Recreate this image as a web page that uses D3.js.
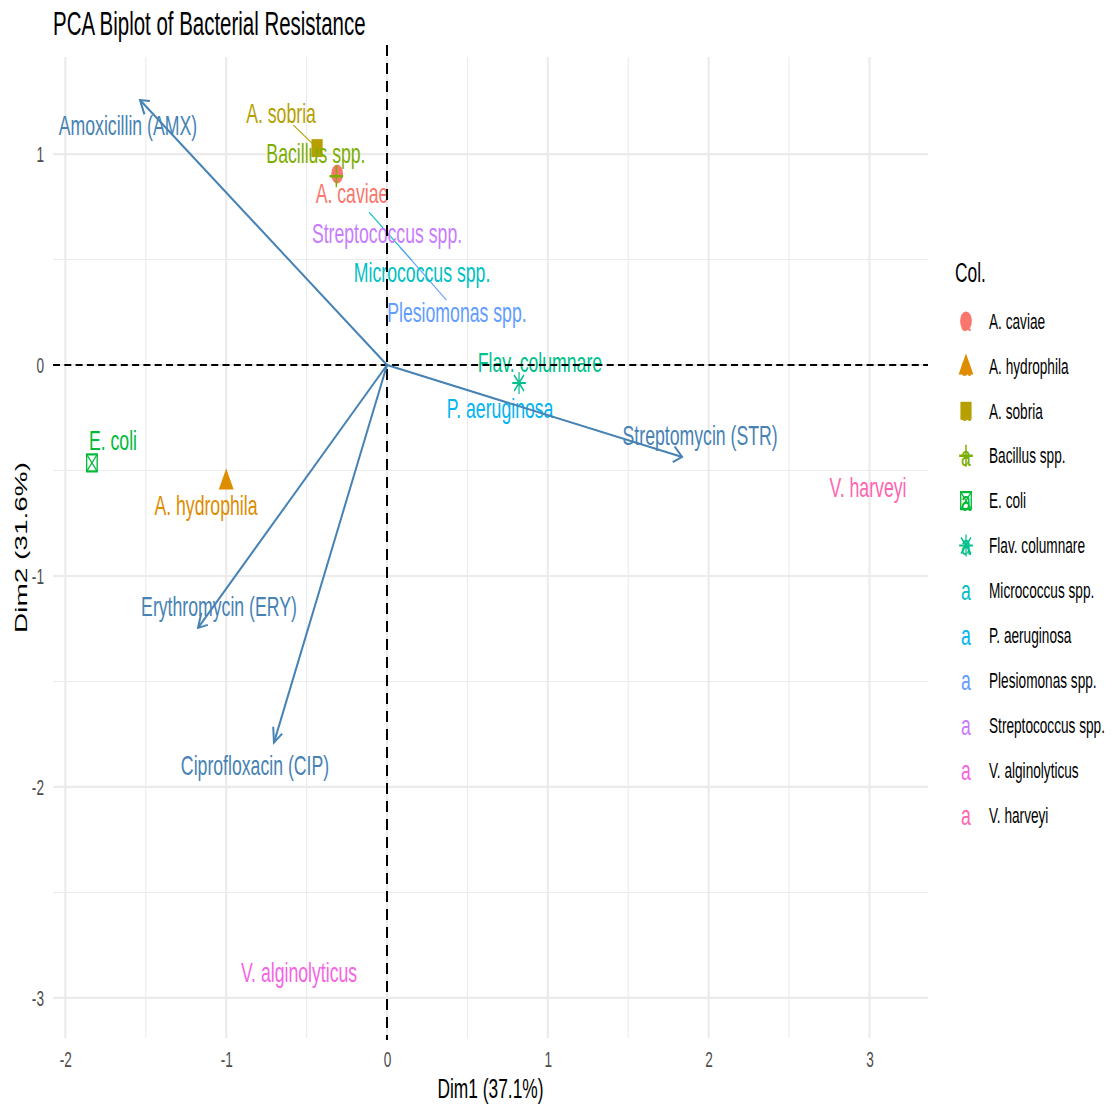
<!DOCTYPE html>
<html>
<head>
<meta charset="utf-8">
<script src="https://cdn.jsdelivr.net/npm/d3@7"></script>
<style>
  html, body { margin: 0; padding: 0; background: #ffffff; }
  svg { display: block; font-family: "Liberation Sans", Arial, sans-serif; }
</style>
</head>
<body>
<svg id="chart" width="1113" height="1106"></svg>
<script>
// ---- Individuals (bacterial isolates) ----
const bacteria = ["A. caviae", "A. hydrophila", "A. sobria", "Bacillus spp.", "E. coli",
  "Flav. columnare", "Micrococcus spp.", "P. aeruginosa", "Plesiomonas spp.",
  "Streptococcus spp.", "V. alginolyticus", "V. harveyi"];
const dim1 = [-0.31, -1.0, -0.435, -0.315, -1.835, 0.821, -0.112, 0.72, 0.081, 0.02, -0.547, 2.991];
const dim2 = [0.905, -0.55, 1.028, 0.895, -0.464, -0.085, 0.725, -0.19, 0.559, 0.64, -2.877, -0.578];
// repelled label anchors (Dim1, Dim2)
const labelDim1 = [-0.218, -1.126, -0.659, -0.442, -1.704, 0.951, 0.218, 0.703, 0.435, 0.0, -0.547, 2.991];
const labelDim2 = [0.815, -0.664, 1.194, 1.005, -0.355, 0.014, 0.441, -0.204, 0.251, 0.626, -2.877, -0.578];

// ---- Variables (antibiotics) ----
const antibiotics = ["Amoxicillin (AMX)", "Streptomycin (STR)", "Erythromycin (ERY)", "Ciprofloxacin (CIP)"];
const loading1 = [-1.536, 1.835, -1.175, -0.703];
const loading2 = [1.256, -0.436, -1.246, -1.79];
const varLabelDim1 = [-1.611, 1.947, -1.045, -0.821];
const varLabelDim2 = [1.137, -0.332, -1.142, -1.896];

// ---- Axes ----
const xTicks = [-2, -1, 0, 1, 2, 3];
const yTicks = [-3, -2, -1, 0, 1];
const xMinor = [-1.5, -0.5, 0.5, 1.5, 2.5];
const yMinor = [-2.5, -1.5, -0.5, 0.5];
const titleText = "PCA Biplot of Bacterial Resistance";
const xTitle = "Dim1 (37.1%)";
const yTitle = "Dim2 (31.6%)";
const legendTitle = "Col.";

// ---- Styles ----
const palette = ["#F8766D", "#DE8C00", "#B79F00", "#7CAE00", "#00BA38", "#00C08B",
  "#00BFC4", "#00B4F0", "#619CFF", "#C77CFF", "#F564E3", "#FF64B0"];
const shapes = ["circle", "triangle", "square", "plus", "squareX", "asterisk",
  null, null, null, null, null, null];
const varColor = "#4682B4";
const sx = 0.62;   // horizontal glyph compression of the whole figure
const font = "'Liberation Sans', Arial, sans-serif";

const svg = d3.select("#chart");
const x = d3.scaleLinear().domain([-2.077, 3.364]).range([53, 928]);
const y = d3.scaleLinear().domain([-3.19, 1.46]).range([1038, 57]);
const [px0, px1] = x.range();
const [py1, py0] = y.range();

// text helper: glyphs compressed horizontally around their anchor
function txt(g, str, tx, ty, opts) {
  const o = Object.assign({ size: 22, anchor: "start", fill: "#000", rotate: 0, dy: null }, opts || {});
  const t = g.append("text")
    .attr("transform", `translate(${tx},${ty}) scale(${sx},1)` + (o.rotate ? ` rotate(${o.rotate})` : ""))
    .attr("font-size", o.size)
    .attr("text-anchor", o.anchor)
    .attr("fill", o.fill)
    .text(str);
  if (o.dy) t.attr("dy", o.dy);
  return t;
}

// ---- Grid ----
const grid = svg.append("g");
grid.selectAll("line.minx").data(xMinor).join("line")
  .attr("x1", d => x(d)).attr("x2", d => x(d)).attr("y1", py0).attr("y2", py1)
  .attr("stroke", "#EBEBEB").attr("stroke-width", 1.1);
grid.selectAll("line.miny").data(yMinor).join("line")
  .attr("y1", d => y(d)).attr("y2", d => y(d)).attr("x1", px0).attr("x2", px1)
  .attr("stroke", "#EBEBEB").attr("stroke-width", 1.1);
grid.selectAll("line.majx").data(xTicks).join("line")
  .attr("x1", d => x(d)).attr("x2", d => x(d)).attr("y1", py0).attr("y2", py1)
  .attr("stroke", "#EBEBEB").attr("stroke-width", 2.2);
grid.selectAll("line.majy").data(yTicks).join("line")
  .attr("y1", d => y(d)).attr("y2", d => y(d)).attr("x1", px0).attr("x2", px1)
  .attr("stroke", "#EBEBEB").attr("stroke-width", 2.2);

// ---- Axis labels via d3 axes ----
const xAxis = svg.append("g").attr("transform", `translate(0,${py1})`)
  .call(d3.axisBottom(x).tickValues(xTicks).tickFormat(d => String(d)).tickSize(0).tickPadding(0));
xAxis.select(".domain").remove();
xAxis.selectAll("text")
  .attr("y", 0).attr("dy", null)
  .attr("transform", `translate(0,29) scale(${sx},1)`)
  .attr("font-size", 22).attr("font-family", font).attr("fill", "#4D4D4D");

const yAxis = svg.append("g").attr("transform", `translate(44,0)`)
  .call(d3.axisLeft(y).tickValues(yTicks).tickFormat(d => String(d)).tickSize(0).tickPadding(0));
yAxis.select(".domain").remove();
yAxis.selectAll("text")
  .attr("x", 0).attr("dy", "0.35em")
  .attr("transform", `scale(${sx},1)`)
  .attr("font-size", 22).attr("font-family", font).attr("fill", "#4D4D4D");

// ---- Marker shapes ----
function drawShape(g, shape, cx, cy, color) {
  const m = g.append("g").attr("transform", `translate(${cx},${cy}) scale(${sx},1)`);
  if (shape === "circle") {
    m.append("circle").attr("r", 9.5).attr("fill", color);
  } else if (shape === "triangle") {
    m.append("path").attr("d", "M0,-12.5L12,8.5L-12,8.5Z").attr("fill", color);
  } else if (shape === "square") {
    m.append("rect").attr("x", -9).attr("y", -9).attr("width", 18).attr("height", 18).attr("fill", color);
  } else if (shape === "plus") {
    m.append("path").attr("d", "M-11,0H11M0,-11V11").attr("stroke", color).attr("stroke-width", 2.4);
  } else if (shape === "squareX") {
    m.append("rect").attr("x", -8.5).attr("y", -8.5).attr("width", 17).attr("height", 17)
      .attr("fill", "none").attr("stroke", color).attr("stroke-width", 2.2);
    m.append("path").attr("d", "M-8.5,-8.5L8.5,8.5M8.5,-8.5L-8.5,8.5").attr("stroke", color).attr("stroke-width", 1.6);
  } else if (shape === "asterisk") {
    m.append("path").attr("d", "M-11,0H11M0,-11V11M-8,-8L8,8M8,-8L-8,8")
      .attr("stroke", color).attr("stroke-width", 2);
  }
  return m;
}

// ---- Individuals: points, labels and repel segments ----
const ind = svg.append("g");
const indData = bacteria.map((name, i) => ({
  name, d1: dim1[i], d2: dim2[i], l1: labelDim1[i], l2: labelDim2[i],
  color: palette[i], shape: shapes[i]
}));
const segLayer = ind.append("g");
const ptLayer = ind.append("g");
const lblLayer = ind.append("g");
indData.forEach(d => {
  if (d.shape) drawShape(ptLayer, d.shape, x(d.d1), y(d.d2), d.color);
  const lx = x(d.l1), ly = y(d.l2);
  const t = txt(lblLayer, d.name, lx, ly, { size: 28.5, anchor: "middle", fill: d.color, dy: "0.35em" });
  // segment from the point toward the label centre, stopped at the label box
  const hw = t.node().getComputedTextLength() * sx / 2, hh = 12;
  const px = x(d.d1), py = y(d.d2);
  const vx = lx - px, vy = ly - py;
  const tx = vx === 0 ? Infinity : (Math.abs(vx) - hw) / Math.abs(vx);
  const ty = vy === 0 ? Infinity : (Math.abs(vy) - hh) / Math.abs(vy);
  const f = Math.min(tx === Infinity ? ty : Math.max(tx, ty), 1);
  const tEnd = Math.max(tx === Infinity ? ty : tx, ty === Infinity ? tx : ty);
  if (tEnd > 0) {
    const ex = px + vx * tEnd, ey = py + vy * tEnd;
    if (Math.hypot(ex - px, ey - py) > 18) {
      segLayer.append("line")
        .attr("x1", px).attr("y1", py).attr("x2", ex).attr("y2", ey)
        .attr("stroke", d.color).attr("stroke-width", 1.1);
    }
  }
});

// ---- Reference axes through the origin ----
svg.append("line")
  .attr("x1", x(0)).attr("x2", x(0)).attr("y1", 45).attr("y2", py1 + 2)
  .attr("stroke", "#000").attr("stroke-width", 2).attr("stroke-dasharray", "11,7");
svg.append("line")
  .attr("x1", px0).attr("x2", px1).attr("y1", y(0)).attr("y2", y(0))
  .attr("stroke", "#000").attr("stroke-width", 2).attr("stroke-dasharray", "7,4.3");

// ---- Variables: arrows and labels ----
const vars = svg.append("g");
function arrowHead(x0, y0, x1, y1) {
  // work in uncompressed space so the head keeps its true shape
  const ux0 = x0 / sx, ux1 = x1 / sx;
  const a = Math.atan2(y1 - y0, ux1 - ux0);
  const L = 16, spread = Math.PI / 6;
  const p1 = [(ux1 - L * Math.cos(a - spread)) * sx, y1 - L * Math.sin(a - spread)];
  const p2 = [(ux1 - L * Math.cos(a + spread)) * sx, y1 - L * Math.sin(a + spread)];
  return `M${p1[0]},${p1[1]}L${x1},${y1}L${p2[0]},${p2[1]}`;
}
antibiotics.forEach((name, i) => {
  const x0 = x(0), y0 = y(0), x1 = x(loading1[i]), y1 = y(loading2[i]);
  vars.append("line").attr("x1", x0).attr("y1", y0).attr("x2", x1).attr("y2", y1)
    .attr("stroke", varColor).attr("stroke-width", 2);
  vars.append("path").attr("d", arrowHead(x0, y0, x1, y1))
    .attr("fill", "none").attr("stroke", varColor).attr("stroke-width", 2);
});
antibiotics.forEach((name, i) => {
  txt(vars, name, x(varLabelDim1[i]), y(varLabelDim2[i]),
    { size: 28.5, anchor: "middle", fill: varColor, dy: "0.35em" });
});

// ---- Titles ----
txt(svg, titleText, 53, 35, { size: 33, fill: "#000" });
txt(svg, xTitle, (px0 + px1) / 2, 1098, { size: 28, anchor: "middle", fill: "#000" });
txt(svg, yTitle, 27, (py0 + py1) / 2, { size: 28, anchor: "middle", fill: "#000", rotate: -90 });

// ---- Legend ----
const legend = svg.append("g");
txt(legend, legendTitle, 955, 282, { size: 28, fill: "#000" });
indData.forEach((d, i) => {
  const cy = 321 + i * 44.9;
  txt(legend, "a", 966, cy, { size: 28.5, anchor: "middle", fill: d.color, dy: "0.35em" });
  if (d.shape) drawShape(legend, d.shape, 966, cy, d.color);
  txt(legend, d.name, 989, cy, { size: 22, fill: "#000", dy: "0.35em" });
});
</script>
</body>
</html>
